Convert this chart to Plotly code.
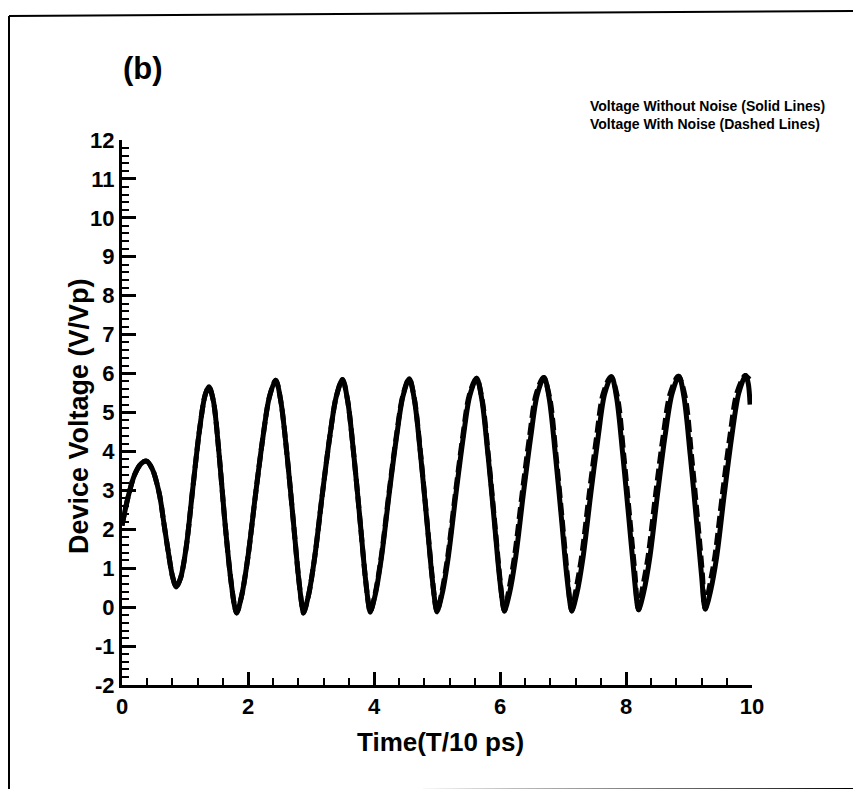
import plotly.graph_objects as go

# ---------------- data ----------------
t_solid = [0.00, 0.10, 0.20, 0.30, 0.39, 0.48, 0.59, 0.67, 0.74, 0.80, 0.86,
           0.93, 1.02, 1.12, 1.23, 1.32, 1.38, 1.45, 1.54, 1.63, 1.72, 1.79, 1.82,
           1.90, 2.00, 2.12, 2.24, 2.34, 2.44, 2.52, 2.62, 2.72, 2.80, 2.86, 2.88,
           2.96, 3.06, 3.18, 3.30, 3.40, 3.50, 3.58, 3.68, 3.78, 3.86, 3.92, 3.94,
           4.02, 4.12, 4.24, 4.36, 4.46, 4.56, 4.64, 4.74, 4.84, 4.92, 4.98, 5.00,
           5.08, 5.18, 5.30, 5.42, 5.52, 5.63, 5.71, 5.81, 5.91, 5.99, 6.05, 6.07,
           6.15, 6.25, 6.37, 6.49, 6.59, 6.70, 6.78, 6.88, 6.98, 7.06, 7.12, 7.14,
           7.22, 7.32, 7.44, 7.56, 7.66, 7.77, 7.85, 7.95, 8.05, 8.13, 8.18, 8.20,
           8.28, 8.38, 8.50, 8.62, 8.73, 8.84, 8.92, 9.02, 9.12, 9.20, 9.24, 9.26,
           9.34, 9.44, 9.56, 9.68, 9.79, 9.90, 9.94, 9.97]
v_solid = [2.10, 2.85, 3.40, 3.68, 3.75, 3.55, 2.93, 2.10, 1.36, 0.80, 0.52,
           0.75, 1.55, 3.00, 4.55, 5.45, 5.66, 5.30, 3.95, 2.25, 0.80, 0.00, -0.15,
           0.30, 1.30, 2.90, 4.40, 5.40, 5.83, 5.30, 3.90, 2.20, 0.80, 0.00, -0.15,
           0.30, 1.30, 2.90, 4.40, 5.40, 5.85, 5.32, 3.90, 2.20, 0.80, 0.00, -0.13,
           0.32, 1.30, 2.90, 4.40, 5.42, 5.87, 5.34, 3.90, 2.20, 0.80, 0.00, -0.12,
           0.33, 1.30, 2.90, 4.40, 5.43, 5.88, 5.35, 3.90, 2.20, 0.80, 0.02, -0.10,
           0.35, 1.30, 2.90, 4.40, 5.45, 5.90, 5.37, 3.90, 2.20, 0.80, 0.02, -0.10,
           0.35, 1.30, 2.90, 4.40, 5.47, 5.92, 5.39, 3.90, 2.20, 0.80, 0.05, -0.07,
           0.38, 1.30, 2.90, 4.40, 5.48, 5.93, 5.40, 3.90, 2.20, 0.80, 0.07, -0.05,
           0.40, 1.30, 2.90, 4.40, 5.50, 5.95, 5.75, 5.20]

t_dashed = [0.00, 0.10, 0.20, 0.30, 0.39, 0.48, 0.59, 0.67, 0.74, 0.80, 0.86,
            0.93, 1.02, 1.12, 1.23, 1.32, 1.38, 1.45, 1.54, 1.63, 1.72, 1.79, 1.82,
            1.90, 2.00, 2.12, 2.24, 2.34, 2.44, 2.52, 2.62, 2.72, 2.80, 2.86, 2.88,
            2.96, 3.06, 3.18, 3.30, 3.40, 3.50, 3.58, 3.68, 3.78, 3.86, 3.92, 3.94,
            4.015, 4.115, 4.235, 4.355, 4.455, 4.557, 4.642, 4.742, 4.842, 4.922, 4.98, 5.00,
            5.07, 5.17, 5.29, 5.41, 5.51, 5.625, 5.715, 5.815, 5.915, 5.995, 6.05, 6.07,
            6.13, 6.23, 6.35, 6.47, 6.57, 6.69, 6.79, 6.89, 6.99, 7.07, 7.12, 7.14,
            7.195, 7.295, 7.415, 7.535, 7.635, 7.76, 7.865, 7.965, 8.065, 8.145, 8.18, 8.20,
            8.25, 8.35, 8.47, 8.59, 8.70, 8.83, 8.94, 9.04, 9.14, 9.215, 9.24, 9.26,
            9.31, 9.41, 9.53, 9.65, 9.76, 9.89, 9.93, 9.96]
v_dashed = [2.10, 2.85, 3.40, 3.68, 3.75, 3.55, 2.93, 2.10, 1.36, 0.80, 0.52,
            0.75, 1.55, 3.00, 4.55, 5.45, 5.66, 5.30, 3.95, 2.25, 0.80, 0.00, -0.15,
            0.30, 1.30, 2.90, 4.40, 5.40, 5.83, 5.30, 3.90, 2.20, 0.80, 0.00, -0.15,
            0.30, 1.30, 2.90, 4.40, 5.40, 5.85, 5.32, 3.90, 2.20, 0.80, 0.00, -0.13,
            0.32, 1.30, 2.90, 4.40, 5.42, 5.87, 5.34, 3.90, 2.20, 0.80, 0.00, -0.12,
            0.33, 1.30, 2.90, 4.40, 5.43, 5.88, 5.35, 3.90, 2.20, 0.80, 0.02, -0.10,
            0.35, 1.30, 2.90, 4.40, 5.45, 5.90, 5.37, 3.90, 2.20, 0.80, 0.02, -0.10,
            0.35, 1.30, 2.90, 4.40, 5.47, 5.92, 5.39, 3.90, 2.20, 0.80, 0.05, -0.07,
            0.38, 1.30, 2.90, 4.40, 5.48, 5.93, 5.40, 3.90, 2.20, 0.80, 0.07, -0.05,
            0.40, 1.30, 2.90, 4.40, 5.50, 5.95, 5.90, 5.85]

x_ticks = [0, 2, 4, 6, 8, 10]
y_ticks = [-2, -1, 0, 1, 2, 3, 4, 5, 6, 7, 8, 9, 10, 11, 12]

panel_label = "(b)"
legend_lines = ["Voltage Without Noise (Solid Lines)",
                "Voltage With Noise (Dashed Lines)"]
x_title = "Time(T/10 ps)"
y_title = "Device Voltage (V/Vp)"

# ---------------- layout geometry ----------------
W, H = 861, 789
L, R, T, B = 114, 744, 132, 677   # plot area in pixels


def px(x):
    return (x - L) / (R - L)


def py(y):
    return (B - y) / (B - T)


FONT = "Liberation Sans"

fig = go.Figure()
fig.add_trace(go.Scatter(x=t_dashed, y=v_dashed, mode="lines",
                         line=dict(color="black", width=5, dash="12px,5px",
                                   shape="spline", smoothing=0.9),
                         showlegend=False, hoverinfo="skip"))
fig.add_trace(go.Scatter(x=t_solid, y=v_solid, mode="lines",
                         line=dict(color="black", width=5,
                                   shape="spline", smoothing=0.9),
                         showlegend=False, hoverinfo="skip"))

axis_common = dict(showline=True, linecolor="black", linewidth=3,
                   ticks="inside", tickcolor="black", tickwidth=3,
                   showgrid=False, zeroline=False, mirror=False,
                   tickfont=dict(family=FONT, size=22, color="black", weight="bold"))

fig.update_xaxes(range=[0, 10], tickvals=x_ticks,
                 ticktext=[str(v) for v in x_ticks], ticklen=13,
                 minor=dict(dtick=0.4, ticks="inside", ticklen=7, tickwidth=2,
                            tickcolor="black", showgrid=False),
                 **axis_common)
fig.update_yaxes(range=[-2, 12], tickvals=y_ticks,
                 ticktext=[str(v) for v in y_ticks], ticklen=14,
                 minor=dict(dtick=0.2, ticks="inside", ticklen=7, tickwidth=2,
                            tickcolor="black", showgrid=False),
                 **axis_common)

annotations = [
    dict(text=panel_label, x=px(135), y=py(61), xref="paper", yref="paper",
         showarrow=False, xanchor="center", yanchor="middle",
         font=dict(family=FONT, size=31, color="black", weight="bold")),
    dict(text=legend_lines[0] + "<br>" + legend_lines[1],
         x=px(580), y=py(107), xref="paper", yref="paper",
         showarrow=False, xanchor="left", yanchor="middle", align="left",
         font=dict(family=FONT, size=14, color="black", weight="bold")),
    dict(text=y_title, x=px(71), y=py(408), xref="paper", yref="paper",
         showarrow=False, xanchor="center", yanchor="middle", textangle=-90,
         font=dict(family=FONT, size=27, color="black", weight="bold")),
    dict(text=x_title, x=px(432), y=py(734), xref="paper", yref="paper",
         showarrow=False, xanchor="center", yanchor="middle",
         font=dict(family=FONT, size=26, color="black", weight="bold")),
]

shapes = [
    dict(type="line", xref="paper", yref="paper", x0=px(1), x1=px(1),
         y0=py(8), y1=py(789), line=dict(color="black", width=2)),
    dict(type="line", xref="paper", yref="paper", x0=px(1), x1=px(861),
         y0=py(8), y1=py(3), line=dict(color="black", width=2)),
    dict(type="line", xref="paper", yref="paper", x0=px(405), x1=px(861),
         y0=py(782), y1=py(781), line=dict(color="black", width=2)),
]

fig.update_layout(width=W, height=H,
                  margin=dict(l=L, r=W - R, t=T, b=H - B, pad=0),
                  plot_bgcolor="white", paper_bgcolor="white",
                  annotations=annotations, shapes=shapes,
                  showlegend=False)

fig.write_html("out.html")
